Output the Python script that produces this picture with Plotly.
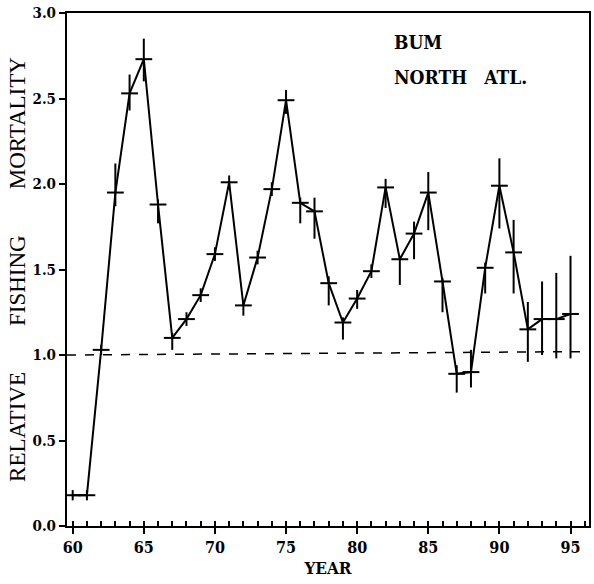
import plotly.graph_objects as go

years = list(range(60, 96))
values = [0.18, 0.18, 1.03, 1.95, 2.53, 2.73, 1.88, 1.10, 1.21, 1.35,
          1.59, 2.01, 1.29, 1.57, 1.97, 2.49, 1.89, 1.84, 1.42, 1.19,
          1.33, 1.49, 1.98, 1.56, 1.71, 1.95, 1.43, 0.89, 0.90, 1.51,
          1.99, 1.60, 1.15, 1.21, 1.21, 1.24]
err_up = [0.03, 0.03, 0.03, 0.17, 0.11, 0.12, 0.03, 0.03, 0.04, 0.04,
          0.04, 0.04, 0.03, 0.04, 0.04, 0.06, 0.03, 0.08, 0.04, 0.03,
          0.05, 0.04, 0.05, 0.02, 0.07, 0.12, 0.02, 0.05, 0.13, 0.03,
          0.16, 0.19, 0.16, 0.22, 0.27, 0.34]
err_down = [0.03, 0.03, 0.03, 0.08, 0.10, 0.13, 0.11, 0.07, 0.04, 0.04,
            0.04, 0.04, 0.06, 0.04, 0.04, 0.08, 0.12, 0.16, 0.13, 0.10,
            0.06, 0.04, 0.12, 0.15, 0.15, 0.22, 0.18, 0.11, 0.09, 0.15,
            0.25, 0.24, 0.19, 0.21, 0.23, 0.26]
ref_x = [59.6, 96.3]
ref_y = [1.0, 1.02]
x_ticks = [60, 65, 70, 75, 80, 85, 90, 95]
y_ticks = [0.0, 0.5, 1.0, 1.5, 2.0, 2.5, 3.0]
label_main = "BUM"
label_sub = "NORTH\u2002\u2002ATL."

font_cond = "DejaVu Serif Condensed"

fig = go.Figure()
fig.add_trace(go.Scatter(
    x=ref_x, y=ref_y, mode="lines",
    line=dict(color="black", width=1.5, dash="dash"),
    hoverinfo="skip", showlegend=False))
fig.add_trace(go.Scatter(
    x=years, y=values, mode="lines+markers",
    line=dict(color="black", width=2),
    marker=dict(symbol="line-ew", size=12, color="black",
                line=dict(color="black", width=2)),
    error_y=dict(type="data", symmetric=False, array=err_up,
                 arrayminus=err_down, color="black", thickness=2, width=0),
    showlegend=False))

fig.add_annotation(x=0.622, y=0.943, xref="paper", yref="paper",
                   text=label_main, showarrow=False, xanchor="left",
                   yanchor="middle",
                   font=dict(family=font_cond, size=19, color="black", weight="bold"))
fig.add_annotation(x=0.622, y=0.876, xref="paper", yref="paper",
                   text=label_sub, showarrow=False, xanchor="left",
                   yanchor="middle",
                   font=dict(family=font_cond, size=19, color="black", weight="bold"))

fig.update_layout(
    width=594, height=584,
    margin=dict(l=67, r=3, t=13, b=58),
    paper_bgcolor="white", plot_bgcolor="white",
    font=dict(family=font_cond, color="black"),
)
fig.update_xaxes(
    range=[59.6, 96.3], tickvals=x_ticks, ticktext=[str(v) for v in x_ticks],
    ticks="outside", ticklen=6, tickwidth=2, tickcolor="black",
    minor=dict(dtick=1, ticks="inside", ticklen=5, tickwidth=1.5, tickcolor="black"),
    showline=True, linecolor="black", linewidth=2, mirror=True,
    showgrid=False, zeroline=False,
    tickfont=dict(family=font_cond, size=16, color="black", weight="bold"),
    title=dict(text="YEAR", font=dict(family=font_cond, size=17, color="black", weight="bold"),
               standoff=6),
)
fig.update_yaxes(
    range=[0, 3.0], tickvals=y_ticks, ticktext=["%.1f" % v for v in y_ticks],
    ticks="outside", ticklen=6, tickwidth=2, tickcolor="black",
    showline=True, linecolor="black", linewidth=2, mirror=True,
    showgrid=False, zeroline=False,
    tickfont=dict(family=font_cond, size=15, color="black", weight="bold"),
    title=dict(text="RELATIVE\u2003\u2003FISHING\u2003\u2003MORTALITY",
               font=dict(family="Liberation Serif", size=23, color="black"),
               standoff=0),
)

fig.write_html("out.html", config={"displayModeBar": False},
               post_script="document.body.style.margin='0';document.body.style.overflow='hidden';")
